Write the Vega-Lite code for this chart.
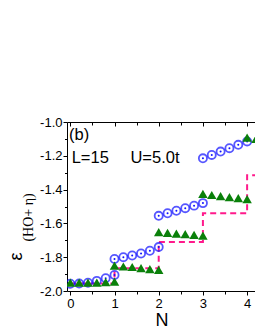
{
  "$schema": "https://vega.github.io/schema/vega-lite/v6.json",
  "width": 189,
  "height": 169,
  "autosize": {"type": "none"},
  "padding": {"left": 67, "top": 122, "right": 0, "bottom": 39},
  "background": "white",
  "config": {
    "view": {"stroke": null},
    "font": "Liberation Sans",
    "axis": {"grid": false, "domainColor": "black", "tickColor": "black", "labelColor": "black", "titleColor": "black", "labelFont": "Liberation Sans", "titleFont": "Liberation Sans", "labelFontSize": 13, "titleFontWeight": "normal", "domainWidth": 1, "tickWidth": 1, "labelOverlap": false}
  },
  "datasets": {
    "pts": [
      {"N": 0.0, "s": "c", "v": -1.957}, {"N": 0.2, "s": "c", "v": -1.956}, {"N": 0.4, "s": "c", "v": -1.951}, {"N": 0.6, "s": "c", "v": -1.94}, {"N": 0.8, "s": "c", "v": -1.924}, {"N": 1.0, "s": "c", "v": -1.905},
      {"N": 1.0, "s": "c", "v": -1.81}, {"N": 1.2, "s": "c", "v": -1.80}, {"N": 1.4, "s": "c", "v": -1.79}, {"N": 1.6, "s": "c", "v": -1.778}, {"N": 1.8, "s": "c", "v": -1.762}, {"N": 2.0, "s": "c", "v": -1.74},
      {"N": 2.0, "s": "c", "v": -1.555}, {"N": 2.2, "s": "c", "v": -1.54}, {"N": 2.4, "s": "c", "v": -1.525}, {"N": 2.6, "s": "c", "v": -1.51}, {"N": 2.8, "s": "c", "v": -1.495}, {"N": 3.0, "s": "c", "v": -1.48},
      {"N": 3.0, "s": "c", "v": -1.215}, {"N": 3.2, "s": "c", "v": -1.195}, {"N": 3.4, "s": "c", "v": -1.175}, {"N": 3.6, "s": "c", "v": -1.155}, {"N": 3.8, "s": "c", "v": -1.135}, {"N": 4.0, "s": "c", "v": -1.115},
      {"N": 0.0, "s": "t", "v": -1.95}, {"N": 0.2, "s": "t", "v": -1.95}, {"N": 0.4, "s": "t", "v": -1.95}, {"N": 0.6, "s": "t", "v": -1.95}, {"N": 0.8, "s": "t", "v": -1.948}, {"N": 1.0, "s": "t", "v": -1.944},
      {"N": 1.0, "s": "t", "v": -1.85}, {"N": 1.2, "s": "t", "v": -1.855}, {"N": 1.4, "s": "t", "v": -1.858}, {"N": 1.6, "s": "t", "v": -1.865}, {"N": 1.8, "s": "t", "v": -1.87}, {"N": 2.0, "s": "t", "v": -1.875},
      {"N": 2.0, "s": "t", "v": -1.652}, {"N": 2.2, "s": "t", "v": -1.656}, {"N": 2.4, "s": "t", "v": -1.66}, {"N": 2.6, "s": "t", "v": -1.664}, {"N": 2.8, "s": "t", "v": -1.668}, {"N": 3.0, "s": "t", "v": -1.672},
      {"N": 3.0, "s": "t", "v": -1.425}, {"N": 3.2, "s": "t", "v": -1.432}, {"N": 3.4, "s": "t", "v": -1.438}, {"N": 3.6, "s": "t", "v": -1.444}, {"N": 3.8, "s": "t", "v": -1.45}, {"N": 4.0, "s": "t", "v": -1.456},
      {"N": 4.0, "s": "t", "v": -1.093}, {"N": 4.2, "s": "t", "v": -1.10}
    ],
    "step": [
      {"N": 0, "v": -1.955}, {"N": 1, "v": -1.866}, {"N": 2, "v": -1.71}, {"N": 3, "v": -1.54}, {"N": 4, "v": -1.315}, {"N": 4.4, "v": -1.315}
    ],
    "labels": [
      {"N": -0.03, "v": -1.077, "t": "(b)"},
      {"N": 0.03, "v": -1.215, "t": "L=15"},
      {"N": 1.36, "v": -1.215, "t": "U=5.0t"}
    ],
    "sub": [
      {"N": -0.93, "v": -1.565, "t": "(HO+ η)"}
    ]
  },
  "resolve": {"axis": {"x": "independent"}},
  "layer": [
    {
      "data": {"name": "step"},
      "mark": {"type": "line", "interpolate": "step-after", "color": "#ff1a8c", "strokeWidth": 2, "strokeDash": [6, 4], "clip": true},
      "encoding": {
        "x": {"field": "N", "type": "quantitative", "scale": {"domain": [-0.075, 4.201], "nice": false, "zero": false},
          "axis": {"orient": "bottom", "tickCount": 100, "values": [0, 0.5, 1, 1.5, 2, 2.5, 3, 3.5, 4], "labelExpr": "datum.value % 1 == 0 ? format(datum.value, 'd') : ''", "tickSize": {"condition": {"test": "datum.value % 1 == 0", "value": 4}, "value": 3}, "title": "N", "titleFontSize": 18, "titlePadding": 1, "labelPadding": 2, "labelFlush": false, "labelOverlap": false}},
        "y": {"field": "v", "type": "quantitative", "scale": {"domain": [-2.0, -1.0], "nice": false, "zero": false},
          "axis": {"tickCount": 100, "values": [-2.0, -1.9, -1.8, -1.7, -1.6, -1.5, -1.4, -1.3, -1.2, -1.1, -1.0], "labelExpr": "abs(round(datum.value * 10)) % 2 == 0 ? replace(format(datum.value, '.1f'), '−', '-') : ''", "tickSize": {"condition": {"test": "abs(round(datum.value * 10)) % 2 == 0", "value": 4}, "value": 2.5}, "labelPadding": 1, "labelFlush": false, "labelOverlap": false, "title": "ε", "titleFontSize": 18, "titleX": -51, "titleY": 134, "titleAngle": -90, "titleBaseline": "middle", "titleAlign": "center"}}
      }
    },
    {
      "data": {"name": "pts"},
      "transform": [{"filter": "datum.s == 'c'"}],
      "mark": {"type": "point", "shape": "circle", "filled": false, "color": "#1010ff", "size": 66, "strokeWidth": 1.8, "clip": true},
      "encoding": {
        "x": {"field": "N", "type": "quantitative", "axis": {"orient": "top", "tickCount": 100, "domain": true, "ticks": true, "values": [0, 0.5, 1, 1.5, 2, 2.5, 3, 3.5, 4], "labels": false, "title": null, "tickSize": {"condition": {"test": "datum.value % 1 == 0", "value": -4}, "value": -3}}},
        "y": {"field": "v", "type": "quantitative"}
      }
    },
    {
      "data": {"name": "pts"},
      "transform": [{"filter": "datum.s == 'c'"}],
      "mark": {"type": "point", "shape": "circle", "filled": true, "color": "#1010ff", "size": 4, "opacity": 1, "clip": true},
      "encoding": {
        "x": {"field": "N", "type": "quantitative", "axis": null},
        "y": {"field": "v", "type": "quantitative"}
      }
    },
    {
      "data": {"name": "pts"},
      "transform": [{"filter": "datum.s == 't'"}],
      "mark": {"type": "point", "shape": "triangle-up", "filled": true, "color": "#0a800a", "size": 90, "opacity": 1, "clip": true},
      "encoding": {
        "x": {"field": "N", "type": "quantitative", "axis": null},
        "y": {"field": "v", "type": "quantitative"}
      }
    },
    {
      "data": {"name": "labels"},
      "mark": {"type": "text", "align": "left", "baseline": "middle", "fontSize": 16.5, "font": "Liberation Sans", "color": "black"},
      "encoding": {
        "x": {"field": "N", "type": "quantitative", "axis": null},
        "y": {"field": "v", "type": "quantitative"},
        "text": {"field": "t"}
      }
    },
    {
      "data": {"name": "sub"},
      "mark": {"type": "text", "align": "center", "baseline": "middle", "angle": 270, "fontSize": 14, "font": "Liberation Serif", "color": "black", "clip": false},
      "encoding": {
        "x": {"field": "N", "type": "quantitative", "axis": null},
        "y": {"field": "v", "type": "quantitative"},
        "text": {"field": "t"}
      }
    }
  ]
}
